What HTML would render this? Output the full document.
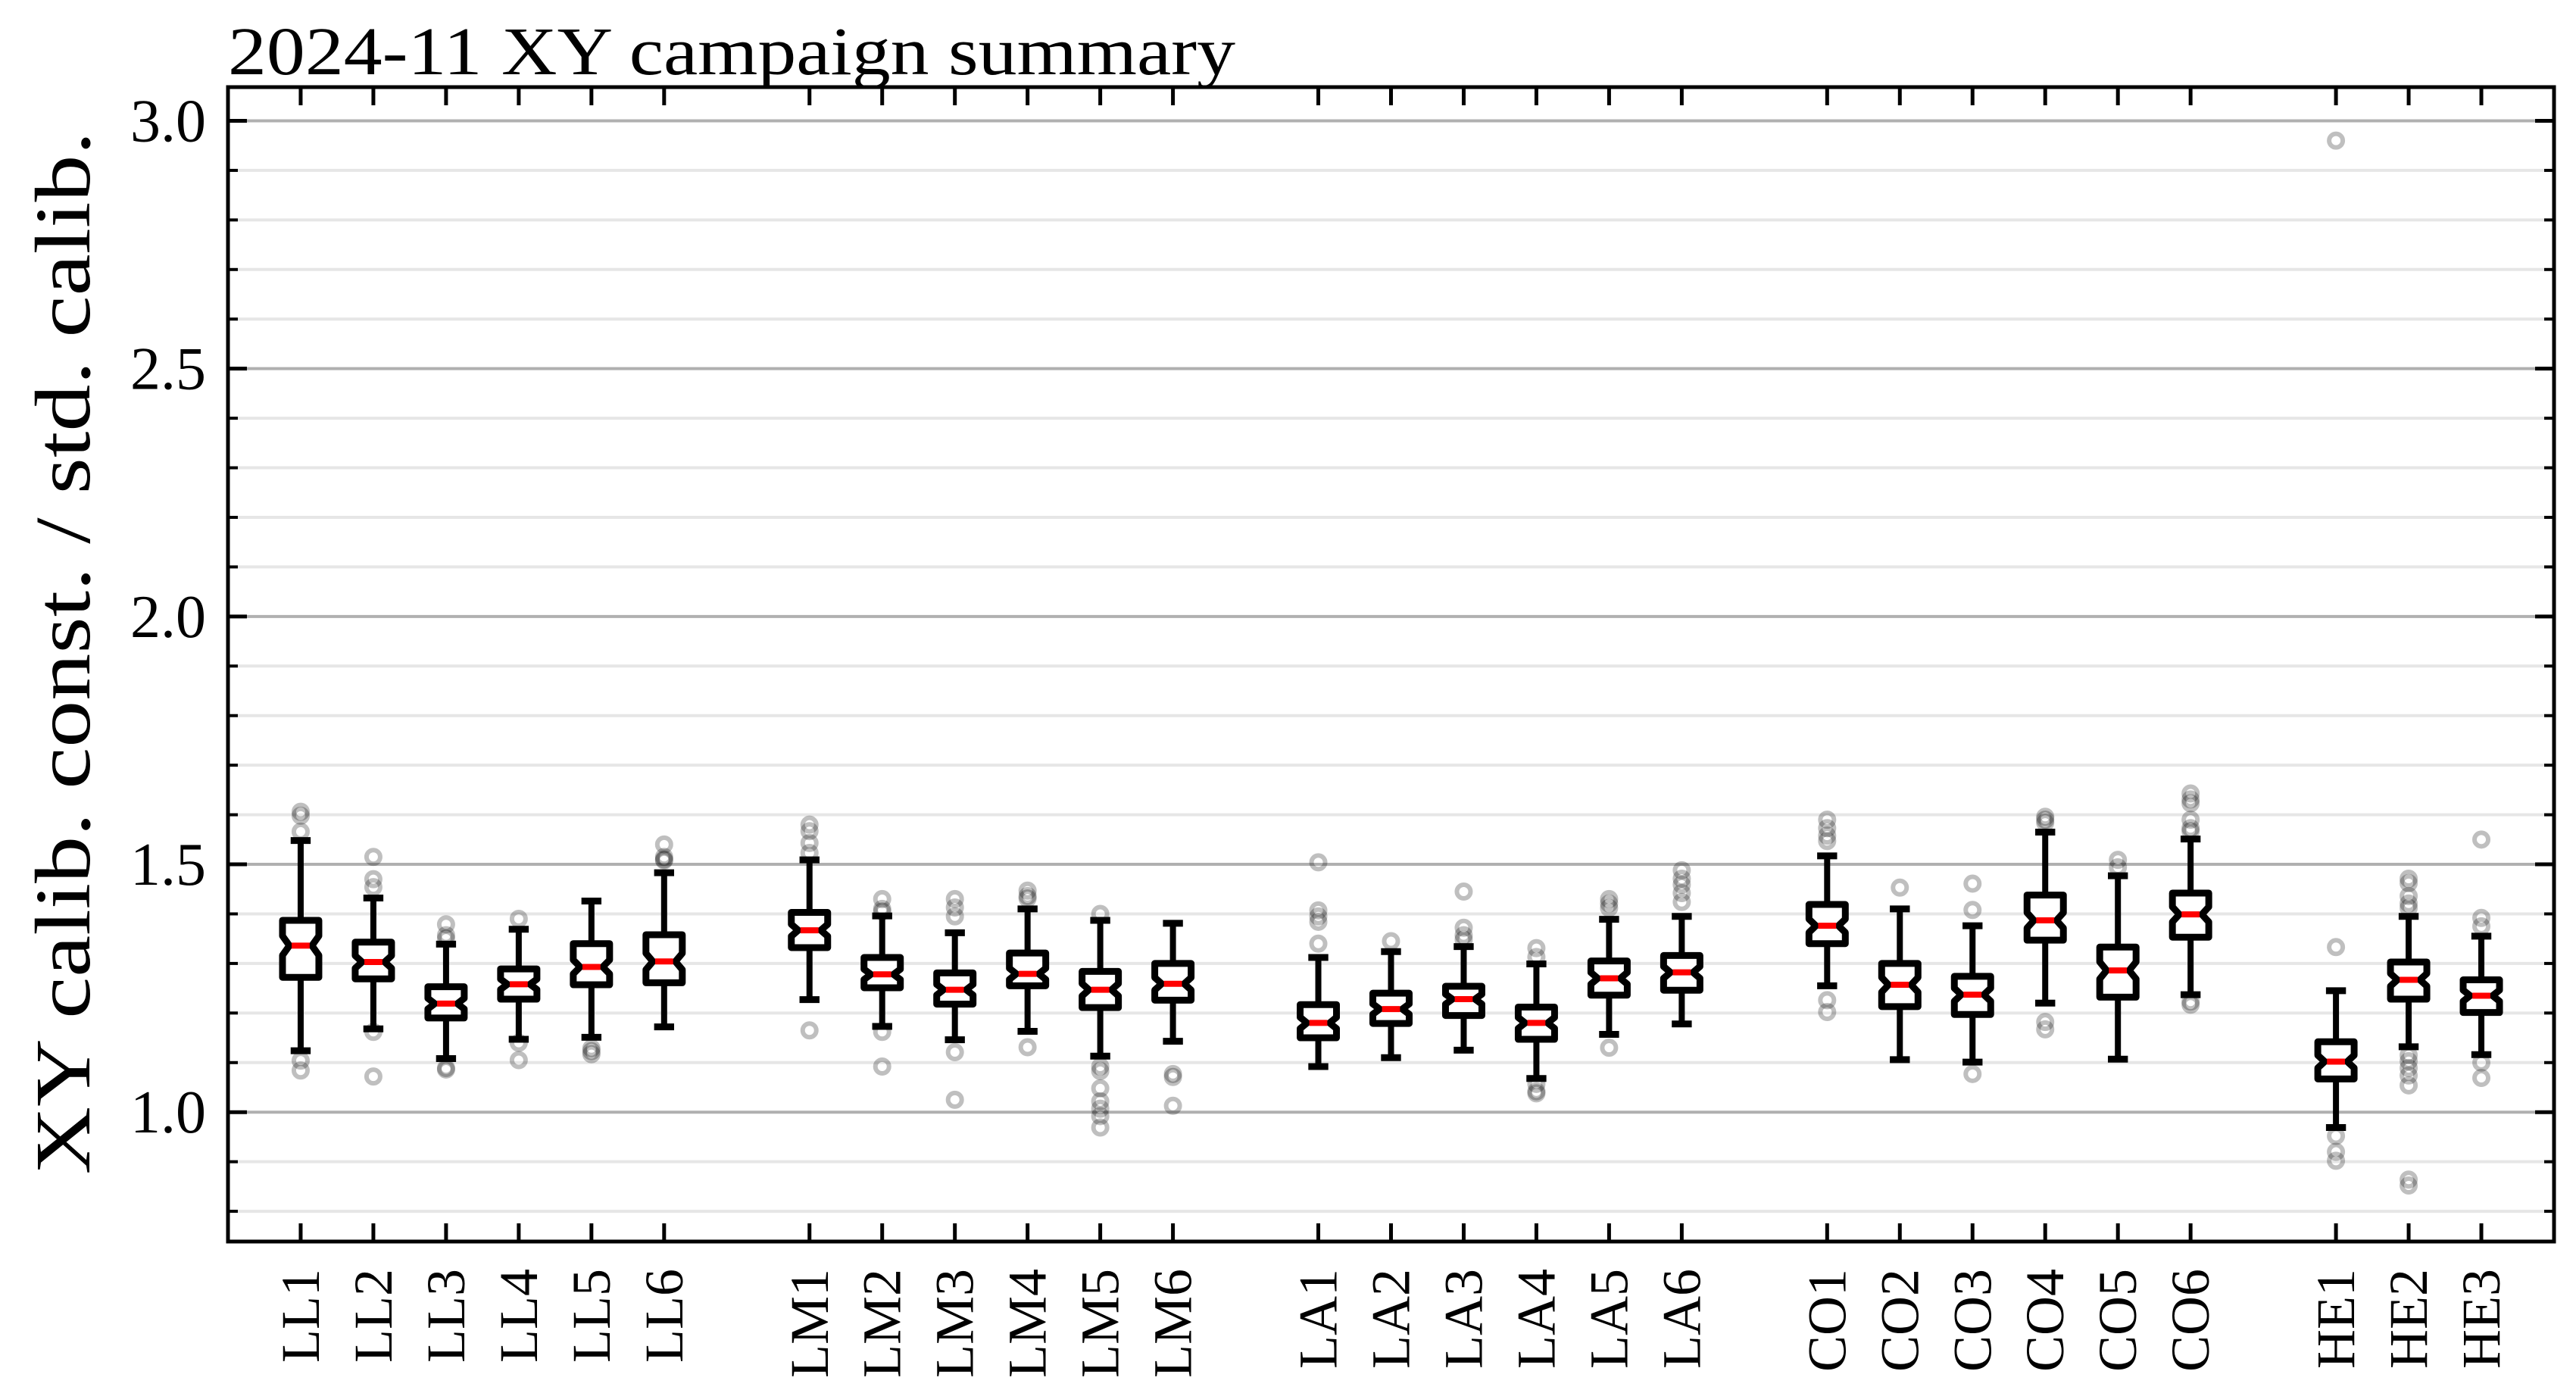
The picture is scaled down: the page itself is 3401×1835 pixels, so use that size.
<!DOCTYPE html>
<html><head><meta charset="utf-8">
<style>
html,body{margin:0;padding:0;background:#fff;}
svg{display:block;}
text{font-family:"Liberation Serif",serif;fill:#000;}
</style></head>
<body>
<svg id="chart" width="3401" height="1835" viewBox="0 0 3401 1835" xmlns="http://www.w3.org/2000/svg">
<rect x="0" y="0" width="3401" height="1835" fill="#fff"/>
<g id="grid"></g>
<g id="marks"></g>
<g id="axes"></g>
<text x="301" y="98" font-size="90" textLength="1330" lengthAdjust="spacingAndGlyphs">2024-11 XY campaign summary</text>
<text transform="translate(118,862) rotate(-90)" text-anchor="middle" font-size="104" textLength="1377" lengthAdjust="spacingAndGlyphs">XY calib. const. / std. calib.</text>
</svg>
<script>
const categories = ["LL1","LL2","LL3","LL4","LL5","LL6","LM1","LM2","LM3","LM4","LM5","LM6","LA1","LA2","LA3","LA4","LA5","LA6","CO1","CO2","CO3","CO4","CO5","CO6","HE1","HE2","HE3"];
const positions = [1,2,3,4,5,6,8,9,10,11,12,13,15,16,17,18,19,20,22,23,24,25,26,27,29,30,31];
const whiskerLow = [1.124,1.168,1.108,1.147,1.151,1.172,1.227,1.173,1.146,1.163,1.113,1.143,1.092,1.110,1.125,1.068,1.157,1.178,1.255,1.106,1.101,1.220,1.107,1.237,0.969,1.132,1.116];
const q1 = [1.272,1.269,1.190,1.228,1.257,1.261,1.332,1.251,1.218,1.255,1.211,1.226,1.150,1.179,1.195,1.147,1.236,1.246,1.340,1.213,1.197,1.347,1.232,1.353,1.067,1.228,1.201];
const medians = [1.336,1.303,1.219,1.258,1.293,1.304,1.367,1.278,1.247,1.279,1.247,1.259,1.180,1.208,1.228,1.180,1.270,1.282,1.376,1.257,1.237,1.387,1.286,1.399,1.102,1.267,1.235];
const q3 = [1.387,1.343,1.253,1.289,1.340,1.358,1.403,1.312,1.281,1.321,1.284,1.300,1.217,1.240,1.254,1.212,1.305,1.316,1.419,1.300,1.274,1.438,1.333,1.442,1.142,1.303,1.267];
const whiskerHigh = [1.548,1.432,1.339,1.369,1.426,1.483,1.509,1.396,1.362,1.410,1.387,1.381,1.312,1.324,1.334,1.299,1.389,1.395,1.517,1.410,1.376,1.565,1.477,1.551,1.245,1.395,1.355];
const outliers = [
 [1.606,1.598,1.566,1.104,1.084],
 [1.515,1.470,1.454,1.162,1.072],
 [1.379,1.357,1.350,1.089,1.086],
 [1.390,1.140,1.105],
 [1.129,1.117,1.123],
 [1.540,1.515,1.510,1.508],
 [1.580,1.567,1.543,1.523,1.165],
 [1.430,1.410,1.405,1.162,1.092],
 [1.430,1.413,1.395,1.121,1.025],
 [1.447,1.436,1.431,1.131],
 [1.400,1.092,1.083,1.048,1.022,1.007,0.992,0.969],
 [1.077,1.071,1.013],
 [1.504,1.407,1.395,1.384,1.340],
 [1.345],
 [1.445,1.372,1.357,1.348],
 [1.331,1.313,1.057,1.042,1.038],
 [1.430,1.421,1.412,1.130],
 [1.488,1.471,1.459,1.442,1.424],
 [1.590,1.573,1.558,1.547,1.226,1.202],
 [1.453],
 [1.461,1.408,1.077],
 [1.596,1.590,1.584,1.182,1.167],
 [1.509,1.494],
 [1.643,1.631,1.623,1.590,1.573,1.567,1.223,1.217],
 [2.960,1.333,0.952,0.920,0.902],
 [1.471,1.462,1.436,1.421,1.412,1.115,1.103,1.089,1.074,1.054,0.864,0.852],
 [1.550,1.392,1.375,1.100,1.069]
];
const yMajorTicks = [1.0,1.5,2.0,2.5,3.0];
const yTickLabels = ["1.0","1.5","2.0","2.5","3.0"];

const NS="http://www.w3.org/2000/svg";
const L=301,R=3372,T=115,B=1639;
const xMin=0,xMax=32,yMin=0.739,yMax=3.068;
function xs(p){return L+(p-xMin)/(xMax-xMin)*(R-L);}
function ys(v){return B-(v-yMin)/(yMax-yMin)*(B-T);}
function mk(tag,attrs,parent){const e=document.createElementNS(NS,tag);for(const k in attrs)e.setAttribute(k,attrs[k]);parent.appendChild(e);return e;}
const grid=document.getElementById('grid'),marks=document.getElementById('marks'),axes=document.getElementById('axes');

for(let i=8;i<=30;i++){
  const v=i/10; if(i%5===0) continue;
  const y=ys(v);
  const g=mk('line',{x1:L,x2:R,y1:y,y2:y,stroke:'#e6e6e6','stroke-width':4},grid);
  
  
  const t1=mk('line',{x1:L,x2:L+13,y1:y,y2:y,stroke:'#000','stroke-width':4},axes);
  
  
  const t2=mk('line',{x1:R-13,x2:R,y1:y,y2:y,stroke:'#000','stroke-width':4},axes);
  
  
}
yMajorTicks.forEach((v,i)=>{
  const y=ys(v);
  const g=mk('line',{x1:L,x2:R,y1:y,y2:y,stroke:'#b0b0b0','stroke-width':4},grid);
  
  
  const t1=mk('line',{x1:L,x2:L+25,y1:y,y2:y,stroke:'#000','stroke-width':5},axes);
  
  
  const t2=mk('line',{x1:R-25,x2:R,y1:y,y2:y,stroke:'#000','stroke-width':5},axes);
  
  
  const tx=mk('text',{x:272,y:y+27,'text-anchor':'end','font-size':80},axes);
  tx.textContent=yTickLabels[i];
  
  
});

const hw=0.25;
categories.forEach((c,i)=>{
  const p=positions[i];
  const g=mk('g',{},marks);
  
  
  outliers[i].forEach(v=>{
    const o=mk('circle',{cx:xs(p),cy:ys(v),r:9,fill:'none',stroke:'#000','stroke-opacity':0.25,'stroke-width':6},g);
    
    
  });
  const xc=xs(p),xl=xs(p-hw),xr=xs(p+hw),xn=xs(p-hw*0.62),xnr=xs(p+hw*0.62);
  const cl=xs(p-hw*0.55),cr=xs(p+hw*0.55);
  const iqr=q3[i]-q1[i],nt=0.17*iqr;
  const w1=mk('line',{x1:xc,x2:xc,y1:ys(q3[i]),y2:ys(whiskerHigh[i]),stroke:'#000','stroke-width':8},g);
  
  
  const w2=mk('line',{x1:xc,x2:xc,y1:ys(q1[i]),y2:ys(whiskerLow[i]),stroke:'#000','stroke-width':8},g);
  
  
  const c1=mk('line',{x1:cl,x2:cr,y1:ys(whiskerHigh[i]),y2:ys(whiskerHigh[i]),stroke:'#000','stroke-width':9},g);
  
  
  const c2=mk('line',{x1:cl,x2:cr,y1:ys(whiskerLow[i]),y2:ys(whiskerLow[i]),stroke:'#000','stroke-width':9},g);
  
  
  const m=medians[i];
  const pts=[[xl,ys(q1[i])],[xl,ys(m-nt)],[xn,ys(m)],[xl,ys(m+nt)],[xl,ys(q3[i])],[xr,ys(q3[i])],[xr,ys(m+nt)],[xnr,ys(m)],[xr,ys(m-nt)],[xr,ys(q1[i])]];
  const bx=mk('polygon',{points:pts.map(a=>a.join(',')).join(' '),fill:'#fff',stroke:'#000','stroke-width':9,'stroke-linejoin':'round'},g);
  
  
  const md=mk('line',{x1:xn+3,x2:xnr-3,y1:ys(m),y2:ys(m),stroke:'#ff0000','stroke-width':8},g);
  
  
  const tb=mk('line',{x1:xc,x2:xc,y1:B,y2:B-24,stroke:'#000','stroke-width':5},axes);
  
  
  const tt=mk('line',{x1:xc,x2:xc,y1:T,y2:T+24,stroke:'#000','stroke-width':5},axes);
  
  
  const lb=mk('text',{transform:'translate('+(xc+24)+',1675) rotate(-90)','text-anchor':'end','font-size':72},axes);
  lb.textContent=c;
  
  
});
const sp=mk('rect',{x:L,y:T,width:R-L,height:B-T,fill:'none',stroke:'#000','stroke-width':5},axes);


</script>
</body></html>
